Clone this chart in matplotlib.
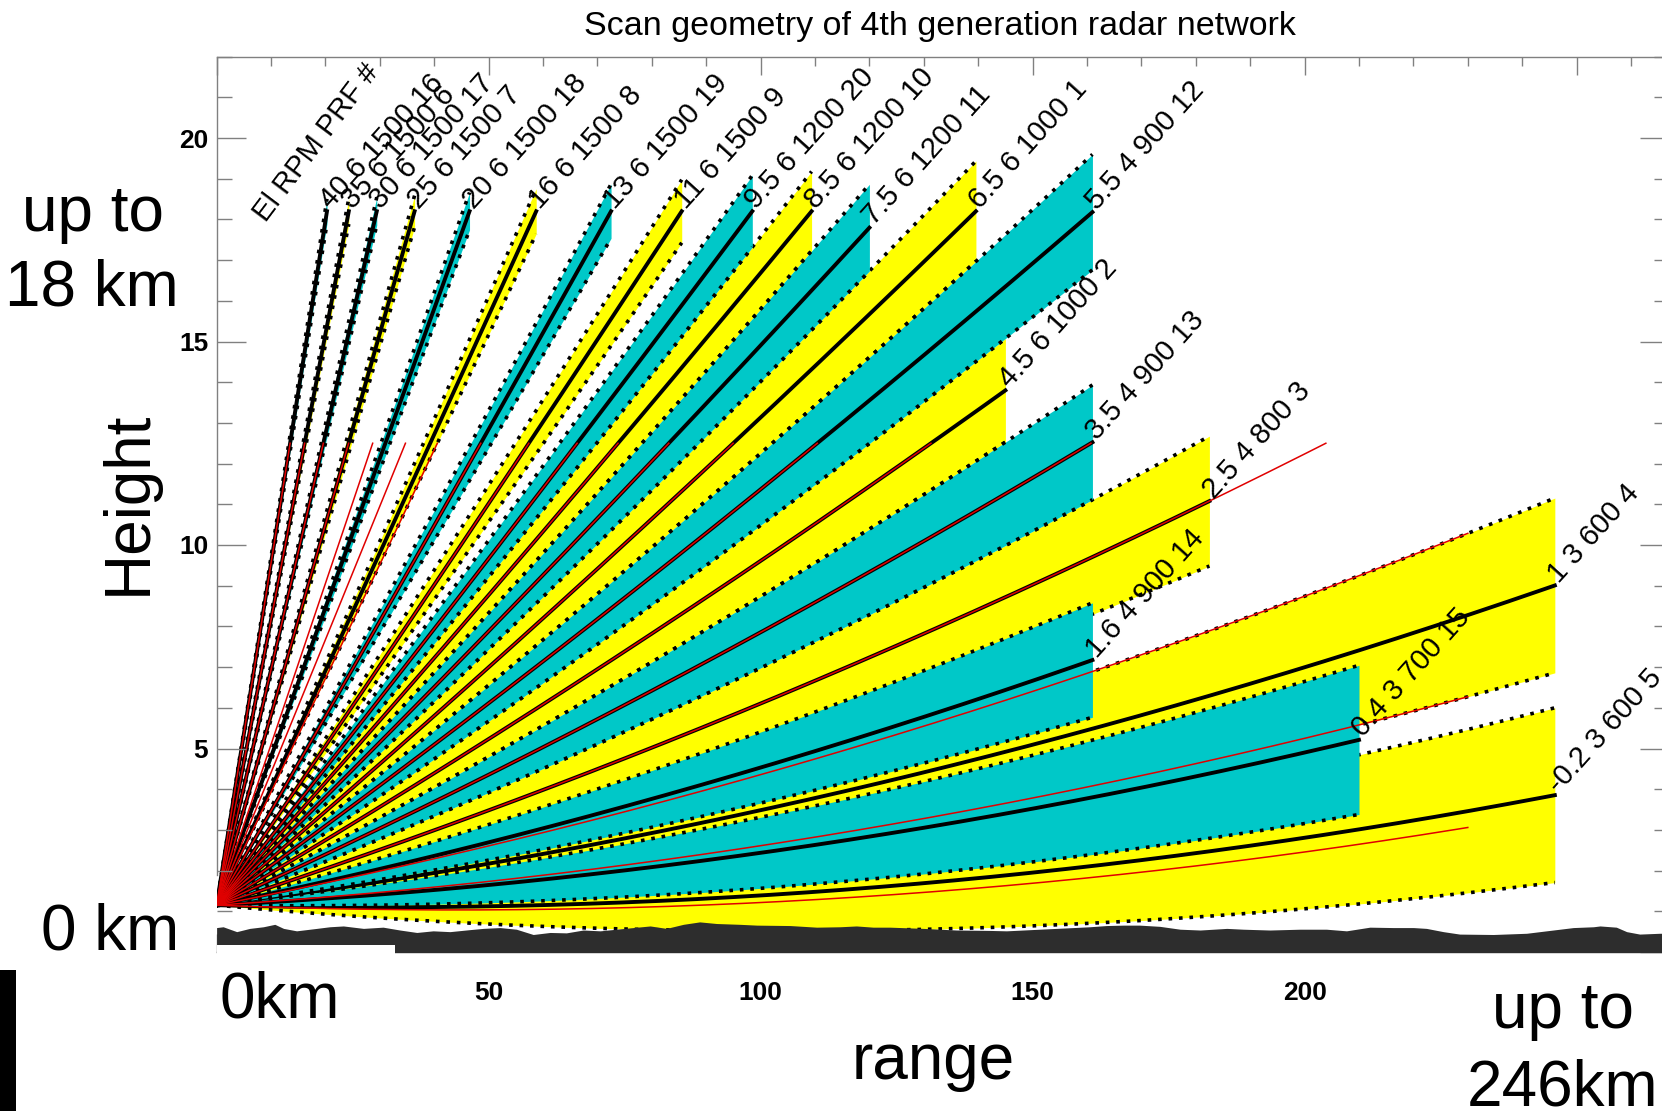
import numpy as np
import matplotlib
matplotlib.use('Agg')
import matplotlib.pyplot as plt
from matplotlib.patches import Rectangle
from matplotlib.ticker import FixedLocator, MultipleLocator

plt.rcParams['font.family'] = ['Liberation Sans', 'DejaVu Sans']

# new scan strategy, listed in scan-number order (drawing order)
scan_no = list(range(1, 21))
elev = [6.5, 4.5, 2.5, 1, -0.2, 35, 25, 16, 11, 8.5, 7.5, 5.5, 3.5, 1.6, 0.4, 40, 30, 20, 13, 9.5]
rpm = [6, 6, 4, 3, 3, 6, 6, 6, 6, 6, 6, 4, 4, 4, 3, 6, 6, 6, 6, 6]
prf = [1000, 1000, 800, 600, 600, 1500, 1500, 1500, 1500, 1200,
       1200, 900, 900, 900, 700, 1500, 1500, 1500, 1500, 1200]
max_range = [145, 145, 182.5, 246, 246, 100, 100, 100, 100, 120,
             120, 161, 161, 161, 210, 100, 100, 100, 100, 120]
max_height = 18.2
beam_width = 1.0

# old scan strategy (red lines)
old_elev = [-0.3, 0.5, 1.5, 2.5, 3.5, 4.5, 5.5, 6.5, 7.5, 8.5, 9.5, 11, 13,
            15.5, 18, 21.5, 25, 30, 35, 40]
old_range = 230
old_height = 12.5

# radar site height and terrain profile (km)
site_h = 1.15
terrain_km = [0, 1.2, 3.7, 6.1, 8.6, 10.7, 12.3, 14.7, 18.4, 20.8, 23.3, 27.0, 30.6,
              33.7, 36.8, 39.8, 42.9, 46.6, 49.0, 52.1, 55.1, 58.2, 61.3, 64.3, 67.4,
              70.5, 73.5, 76.6, 79.7, 82.7, 85.8, 88.8, 91.9, 96.2, 99.3, 105.4, 110.3,
              114.6, 117.6, 120.7, 123.8, 129.9, 136.0, 142.1, 145.2, 148.3, 151.3,
              154.4, 157.5, 160.5, 163.6, 166.7, 169.7, 173.4, 177.1, 180.8, 185.7,
              188.7, 193.6, 199.1, 204.0, 207.7, 212.0, 216.3, 220.0, 222.4, 225.5,
              228.5, 234.7, 240.8, 245.7, 249.4, 253.1, 254.3, 257.3, 259.2, 261.6,
              265.3, 270]
terrain_h = [0.60, 0.62, 0.50, 0.58, 0.62, 0.68, 0.58, 0.52, 0.58, 0.62, 0.64, 0.58, 0.61,
             0.54, 0.48, 0.52, 0.50, 0.55, 0.58, 0.60, 0.56, 0.43, 0.48, 0.47, 0.54,
             0.52, 0.56, 0.60, 0.64, 0.58, 0.68, 0.74, 0.70, 0.68, 0.66, 0.65, 0.61,
             0.62, 0.64, 0.61, 0.61, 0.58, 0.54, 0.53, 0.52, 0.54, 0.56,
             0.58, 0.60, 0.62, 0.65, 0.66, 0.66, 0.63, 0.56, 0.54, 0.58,
             0.56, 0.54, 0.56, 0.56, 0.52, 0.61, 0.60, 0.60, 0.58, 0.50,
             0.44, 0.43, 0.46, 0.54, 0.60, 0.62, 0.64, 0.61, 0.50, 0.44,
             0.46, 0.46]

RE = 4.0 / 3.0 * 6371.0


def height(x, el):
    return site_h + x * np.tan(np.radians(el)) + x ** 2 / (2 * RE)


def end_range(el, rmax, top):
    a = 1 / (2 * RE)
    b = np.tan(np.radians(el))
    c = site_h - top
    xr = (-b + np.sqrt(b * b - 4 * a * c)) / (2 * a)
    return min(rmax, xr)


W, H = 1662, 1111
fig = plt.figure(figsize=(W / 100, H / 100), dpi=100)
ax = fig.add_axes([216.6 / W, 159 / H, 267 * 5.44 / W, 22 * 40.7 / H])
ax.set_xlim(0, 267)
ax.set_ylim(0, 22)

yellow = '#ffff00'
cyan = '#00c8c8'
dots = (0, (1, 1.9))

for k in range(len(elev)):
    el = elev[k]
    xe = end_range(el, max_range[k], max_height)
    x = np.linspace(0, xe, 400)
    lo = height(x, el - beam_width / 2)
    hi = height(x, el + beam_width / 2)
    c = height(x, el)
    col = yellow if scan_no[k] <= 10 else cyan
    z = 1 + k * 0.01
    ax.fill_between(x, lo, hi, color=col, lw=0, zorder=z)
    ax.plot(x, lo, color='k', lw=2.6, ls=dots, zorder=z + 0.002)
    ax.plot(x, hi, color='k', lw=2.6, ls=dots, zorder=z + 0.002)
    ax.plot(x, c, color='k', lw=2.8, zorder=z + 0.004)
    ax.annotate(f'{el:g} {rpm[k]} {prf[k]} {scan_no[k]}', (xe, c[-1]),
                xytext=(3, 1), textcoords='offset points', rotation=48,
                rotation_mode='anchor', ha='left', va='baseline',
                fontsize=21, zorder=4)

ax.text(9.0, 17.9, 'El RPM PRF #', rotation=53, rotation_mode='anchor',
        ha='left', va='baseline', fontsize=21, zorder=4)

for el in old_elev:
    xe = end_range(el, old_range, old_height)
    x = np.linspace(0, xe, 400)
    ax.plot(x, height(x, el), color='#e00000', lw=1.1, zorder=1.5)

ax.fill_between(terrain_km, 0, terrain_h, color='#2d2d2d', lw=0, zorder=1.8)

# axes / ticks
ax.xaxis.set_major_locator(FixedLocator([0, 50, 100, 150, 200, 250]))
ax.xaxis.set_minor_locator(MultipleLocator(10))
ax.set_xticklabels(['', '50', '100', '150', '200', ''], fontweight='bold')
ax.yaxis.set_major_locator(FixedLocator([0, 5, 10, 15, 20]))
ax.yaxis.set_minor_locator(MultipleLocator(1))
ax.set_yticklabels(['', '5', '10', '15', '20'], fontweight='bold')
ax.tick_params(axis='x', which='both', direction='in', top=True, bottom=True,
               labelsize=19, pad=21, color='#808080', width=1)
ax.tick_params(axis='x', which='major', length=13)
ax.tick_params(axis='x', which='minor', length=6.5)
ax.tick_params(axis='y', which='both', direction='in', left=True, right=True,
               labelsize=19, pad=6, color='#808080', width=1)
ax.tick_params(axis='y', which='major', length=21)
ax.tick_params(axis='y', which='minor', length=11)
for t in ax.xaxis.get_major_ticks() + ax.xaxis.get_minor_ticks():
    t.tick1line.set_color('k')
for s in ax.spines.values():
    s.set_color('#808080')
    s.set_linewidth(1)
ax.spines['left'].set_bounds(1.9, 22)
ax.spines['bottom'].set_color('#2d2d2d')

# annotations around the plot
fig.text(940 / W, 1 - 35 / H, 'Scan geometry of 4th generation radar network',
         ha='center', va='baseline', fontsize=24.5)
fig.text(93 / W, 1 - 231 / H, 'up to', ha='center', va='baseline', fontsize=46)
fig.text(92 / W, 1 - 305 / H, '18 km', ha='center', va='baseline', fontsize=46)
fig.text(129 / W, 1 - 503 / H, 'Height', rotation=90, ha='center', va='center', fontsize=46)
fig.text(110 / W, 1 - 949 / H, '0 km', ha='center', va='baseline', fontsize=46)
fig.text(280 / W, 1 - 1017 / H, '0km', ha='center', va='baseline', fontsize=46, zorder=3)
fig.text(933 / W, 1 - 1079 / H, 'range', ha='center', va='baseline', fontsize=46)
fig.text(1563 / W, 1 - 1028 / H, 'up to', ha='center', va='baseline', fontsize=46)
fig.text(1563 / W, 1 - 1106 / H, '246km', ha='center', va='baseline', fontsize=46)

fig.add_artist(Rectangle((217 / W, 1 - 1040 / H), 178 / W, 95 / H,
                         transform=fig.transFigure, color='white', lw=0, zorder=1))
fig.add_artist(Rectangle((0, 0), 16 / W, 141 / H,
                         transform=fig.transFigure, color='black', lw=0, zorder=1))

fig.savefig('out.png', dpi=100)
